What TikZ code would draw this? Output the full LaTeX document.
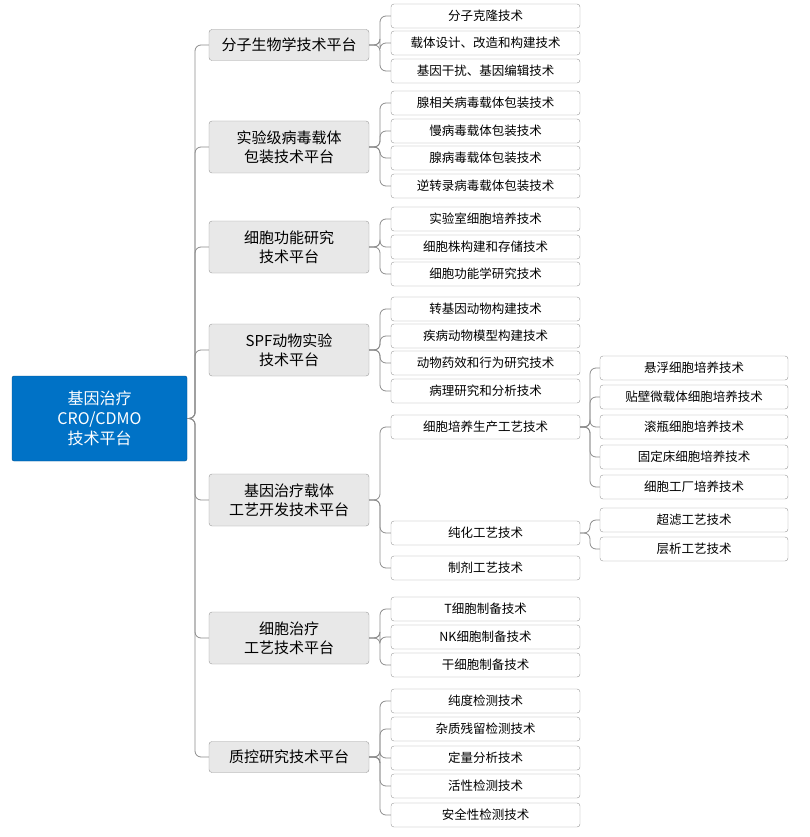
\documentclass[tikz,border=0pt]{standalone}
\usepackage{fontspec}
\setmainfont{Noto Sans CJK SC}
\begin{document}
\begin{tikzpicture}[x=1pt,y=-1pt,
  rootbox/.style={draw=rootblue!70!black,fill=rootblue,text=white,rounded corners=2pt,minimum width=175pt,minimum height=85pt,align=center,font=\fontsize{16}{20}\selectfont},
  l1box/.style={draw=gray!80,fill=gray!18,rounded corners=3pt,minimum width=160pt,align=center,font=\fontsize{15}{19}\selectfont,inner sep=5pt},
  l2box/.style={draw=gray!80,fill=white,rounded corners=3pt,minimum width=189pt,minimum height=24pt,font=\fontsize{12.5}{15}\selectfont,inner sep=2pt},
  l3box/.style={draw=gray!80,fill=white,rounded corners=3pt,minimum width=188pt,minimum height=24pt,font=\fontsize{12.5}{15}\selectfont,inner sep=2pt},
  link/.style={draw=gray!90,line width=0.8pt,rounded corners=6pt}]
\definecolor{rootblue}{RGB}{0,114,198}
\useasboundingbox (0,0) rectangle (810,837);
\node[rootbox] (root) at (99.5,418.5) {基因治疗\\CRO/CDMO\\技术平台};
\foreach \t/\y/\n/\h in {分子生物学技术平台/45/a/31,实验级病毒载体\\包装技术平台/147/b/52,细胞功能研究\\技术平台/247/c/52,SPF动物实验\\技术平台/350/d/52,基因治疗载体\\工艺开发技术平台/500/e/52,细胞治疗\\工艺技术平台/638/f/52,质控研究技术平台/757/g/31}{
  \node[l1box,minimum height=\h pt] (\n) at (289,\y) {\t};
  \draw[link] (root.east) -- (195,418.5) |- (\n.west);
}
\foreach \p/\t/\y/\n in {a/分子克隆技术/16/a1,a/载体设计、改造和构建技术/43/a2,a/基因干扰、基因编辑技术/71/a3,
 b/腺相关病毒载体包装技术/103/b1,b/慢病毒载体包装技术/131/b2,b/腺病毒载体包装技术/158/b3,b/逆转录病毒载体包装技术/186/b4,
 c/实验室细胞培养技术/219/c1,c/细胞株构建和存储技术/247/c2,c/细胞功能学研究技术/274/c3,
 d/转基因动物构建技术/309/d1,d/疾病动物模型构建技术/336/d2,d/动物药效和行为研究技术/363/d3,d/病理研究和分析技术/391/d4,
 e/细胞培养生产工艺技术/427/e1,e/纯化工艺技术/533/e2,e/制剂工艺技术/568/e3,
 f/T细胞制备技术/609/f1,f/NK细胞制备技术/637/f2,f/干细胞制备技术/665/f3,
 g/纯度检测技术/701/g1,g/杂质残留检测技术/729/g2,g/定量分析技术/758/g3,g/活性检测技术/786/g4,g/安全性检测技术/815/g5}{
  \node[l2box] (\n) at (485.5,\y) {\t};
  \draw[link] (\p.east) -- (380,0|-\p.east) |- (\n.west);
}
\foreach \p/\t/\y/\n in {e1/悬浮细胞培养技术/368/h1,e1/贴壁微载体细胞培养技术/397/h2,e1/滚瓶细胞培养技术/427/h3,e1/固定床细胞培养技术/457/h4,e1/细胞工厂培养技术/487/h5,
 e2/超滤工艺技术/520/i1,e2/层析工艺技术/549/i2}{
  \node[l3box] (\n) at (694,\y) {\t};
  \draw[link] (\p.east) -- (590,0|-\p.east) |- (\n.west);
}
\end{tikzpicture}
\end{document}
